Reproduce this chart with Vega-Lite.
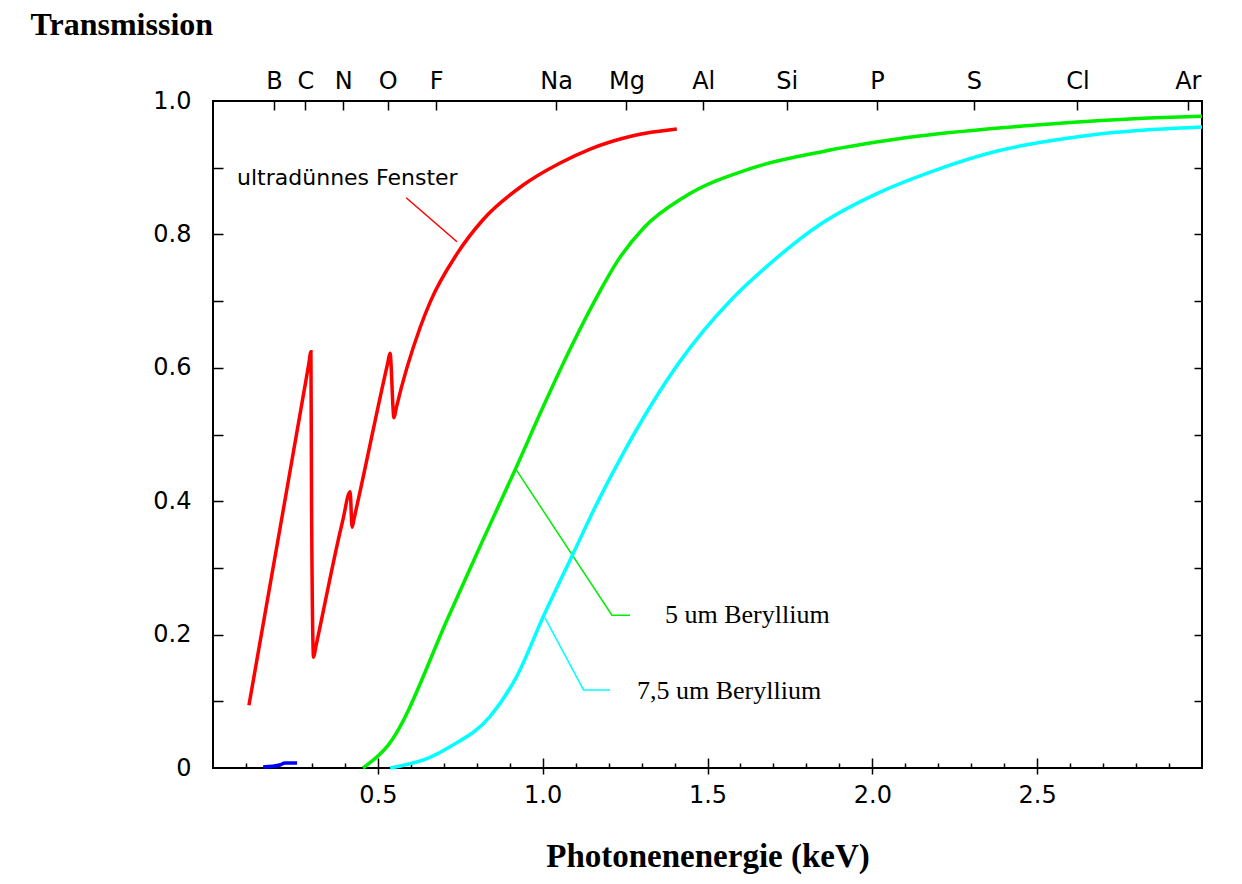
{
  "$schema": "https://vega.github.io/schema/vega-lite/v6.json",
  "width": 989,
  "height": 667,
  "autosize": {"type": "none"},
  "padding": {"left": 213, "top": 101, "right": 40, "bottom": 116},
  "background": "white",
  "config": {
    "view": {"stroke": "#000", "strokeWidth": 2},
    "axis": {
      "grid": false,
      "domain": false,
      "labelFont": "DejaVu Sans",
      "labelFontSize": 24,
      "labelColor": "#000",
      "tickColor": "#000",
      "tickWidth": 1.5,
      "labelOverlap": false,
      "labelFlush": false,
      "titleColor": "#000"
    }
  },
  "datasets": {
    "curves": [
      {"series": "ultradünnes Fenster", "E": 0.109, "T": 0.094},
      {"series": "ultradünnes Fenster", "E": 0.2, "T": 0.35},
      {"series": "ultradünnes Fenster", "E": 0.29, "T": 0.604},
      {"series": "ultradünnes Fenster", "E": 0.297, "T": 0.624},
      {"series": "ultradünnes Fenster", "E": 0.299, "T": 0.391},
      {"series": "ultradünnes Fenster", "E": 0.305, "T": 0.166},
      {"series": "ultradünnes Fenster", "E": 0.312, "T": 0.182},
      {"series": "ultradünnes Fenster", "E": 0.386, "T": 0.355},
      {"series": "ultradünnes Fenster", "E": 0.394, "T": 0.372},
      {"series": "ultradünnes Fenster", "E": 0.416, "T": 0.414},
      {"series": "ultradünnes Fenster", "E": 0.422, "T": 0.361},
      {"series": "ultradünnes Fenster", "E": 0.428, "T": 0.374},
      {"series": "ultradünnes Fenster", "E": 0.53, "T": 0.607},
      {"series": "ultradünnes Fenster", "E": 0.537, "T": 0.622},
      {"series": "ultradünnes Fenster", "E": 0.549, "T": 0.525},
      {"series": "ultradünnes Fenster", "E": 0.556, "T": 0.54},
      {"series": "ultradünnes Fenster", "E": 0.628, "T": 0.66},
      {"series": "ultradünnes Fenster", "E": 0.66, "T": 0.7},
      {"series": "ultradünnes Fenster", "E": 0.739, "T": 0.77},
      {"series": "ultradünnes Fenster", "E": 0.819, "T": 0.822},
      {"series": "ultradünnes Fenster", "E": 0.941, "T": 0.874},
      {"series": "ultradünnes Fenster", "E": 1.053, "T": 0.907},
      {"series": "ultradünnes Fenster", "E": 1.144, "T": 0.928},
      {"series": "ultradünnes Fenster", "E": 1.274, "T": 0.948},
      {"series": "ultradünnes Fenster", "E": 1.407, "T": 0.958},
      {"series": "5 um Beryllium", "E": 0.455, "T": 0.0},
      {"series": "5 um Beryllium", "E": 0.531, "T": 0.034},
      {"series": "5 um Beryllium", "E": 0.719, "T": 0.232},
      {"series": "5 um Beryllium", "E": 0.819, "T": 0.342},
      {"series": "5 um Beryllium", "E": 0.921, "T": 0.452},
      {"series": "5 um Beryllium", "E": 1.0, "T": 0.54},
      {"series": "5 um Beryllium", "E": 1.09, "T": 0.635},
      {"series": "5 um Beryllium", "E": 1.174, "T": 0.715},
      {"series": "5 um Beryllium", "E": 1.223, "T": 0.757},
      {"series": "5 um Beryllium", "E": 1.307, "T": 0.81},
      {"series": "5 um Beryllium", "E": 1.426, "T": 0.855},
      {"series": "5 um Beryllium", "E": 1.632, "T": 0.899},
      {"series": "5 um Beryllium", "E": 1.848, "T": 0.924},
      {"series": "5 um Beryllium", "E": 2.136, "T": 0.947},
      {"series": "5 um Beryllium", "E": 2.498, "T": 0.964},
      {"series": "5 um Beryllium", "E": 2.86, "T": 0.975},
      {"series": "5 um Beryllium", "E": 3.0, "T": 0.977},
      {"series": "7,5 um Beryllium", "E": 0.537, "T": 0.0},
      {"series": "7,5 um Beryllium", "E": 0.658, "T": 0.016},
      {"series": "7,5 um Beryllium", "E": 0.719, "T": 0.032},
      {"series": "7,5 um Beryllium", "E": 0.84, "T": 0.077},
      {"series": "7,5 um Beryllium", "E": 0.921, "T": 0.137},
      {"series": "7,5 um Beryllium", "E": 1.002, "T": 0.227},
      {"series": "7,5 um Beryllium", "E": 1.093, "T": 0.322},
      {"series": "7,5 um Beryllium", "E": 1.164, "T": 0.396},
      {"series": "7,5 um Beryllium", "E": 1.25, "T": 0.477},
      {"series": "7,5 um Beryllium", "E": 1.417, "T": 0.61},
      {"series": "7,5 um Beryllium", "E": 1.572, "T": 0.702},
      {"series": "7,5 um Beryllium", "E": 1.68, "T": 0.752},
      {"series": "7,5 um Beryllium", "E": 1.848, "T": 0.817},
      {"series": "7,5 um Beryllium", "E": 2.017, "T": 0.862},
      {"series": "7,5 um Beryllium", "E": 2.184, "T": 0.895},
      {"series": "7,5 um Beryllium", "E": 2.379, "T": 0.925},
      {"series": "7,5 um Beryllium", "E": 2.618, "T": 0.946},
      {"series": "7,5 um Beryllium", "E": 2.74, "T": 0.953},
      {"series": "7,5 um Beryllium", "E": 3.0, "T": 0.961},
      {"series": "blau", "E": 0.152, "T": 0.0015},
      {"series": "blau", "E": 0.203, "T": 0.0045},
      {"series": "blau", "E": 0.218, "T": 0.0075},
      {"series": "blau", "E": 0.255, "T": 0.0075}
    ],
    "leaders": [
      {"series": "ultradünnes Fenster", "E": 0.586, "T": 0.855},
      {"series": "ultradünnes Fenster", "E": 0.74, "T": 0.789},
      {"series": "5 um Beryllium", "E": 0.916, "T": 0.45},
      {"series": "5 um Beryllium", "E": 1.21, "T": 0.229},
      {"series": "5 um Beryllium", "E": 1.265, "T": 0.229},
      {"series": "7,5 um Beryllium", "E": 1.007, "T": 0.225},
      {"series": "7,5 um Beryllium", "E": 1.124, "T": 0.117},
      {"series": "7,5 um Beryllium", "E": 1.204, "T": 0.117}
    ],
    "labels": [
      {"kind": "sans", "text": "ultradünnes Fenster", "E": 0.073, "T": 0.885},
      {"kind": "serif", "text": "5 um Beryllium", "E": 1.371, "T": 0.229},
      {"kind": "serif", "text": "7,5 um Beryllium", "E": 1.286, "T": 0.115}
    ]
  },
  "layer": [
    {
      "data": {"name": "leaders"},
      "mark": {"type": "line", "strokeWidth": 1.5},
      "encoding": {
        "x": {
          "field": "E", "type": "quantitative",
          "scale": {"domain": [0, 3], "nice": false, "zero": false},
          "axis": {
            "orient": "bottom",
            "values": [0.1, 0.2, 0.3, 0.4, 0.5, 0.6, 0.7, 0.8, 0.9, 1.0, 1.1, 1.2, 1.3, 1.4, 1.5, 1.6, 1.7, 1.8, 1.9, 2.0, 2.1, 2.2, 2.3, 2.4, 2.5, 2.6, 2.7, 2.8, 2.9],
            "labels": false,
            "tickSize": {"condition": {"test": "abs(datum.value * 2 - round(datum.value * 2)) < 0.01", "value": -10}, "value": -5},
            "title": null
          }
        },
        "y": {
          "field": "T", "type": "quantitative",
          "scale": {"domain": [0, 1], "nice": false, "zero": false},
          "axis": {
            "orient": "left",
            "values": [0.1, 0.2, 0.3, 0.4, 0.5, 0.6, 0.7, 0.8, 0.9],
            "labels": false,
            "tickSize": -10,
            "title": null
          }
        },
        "color": {
          "field": "series", "type": "nominal",
          "scale": {"domain": ["ultradünnes Fenster", "5 um Beryllium", "7,5 um Beryllium", "blau"], "range": ["#ff0000", "#00ee00", "#00ffff", "#0000ff"]},
          "legend": null
        }
      }
    },
    {
      "data": {"name": "curves"},
      "mark": {"type": "line", "strokeWidth": 3.5, "interpolate": "monotone"},
      "encoding": {
        "x": {
          "field": "E", "type": "quantitative",
          "scale": {"domain": [0, 3], "nice": false, "zero": false},
          "axis": {
            "orient": "bottom",
            "values": [0.5, 1.0, 1.5, 2.0, 2.5],
            "format": ".1f",
            "tickSize": 6,
            "labelPadding": 9,
            "title": "Photonenenergie (keV)",
            "titleFont": "Liberation Serif",
            "titleFontSize": 33,
            "titleFontWeight": "bold",
            "titleBaseline": "alphabetic",
            "titleY": 98
          }
        },
        "y": {
          "field": "T", "type": "quantitative",
          "scale": {"domain": [0, 1], "nice": false, "zero": false},
          "axis": {
            "orient": "left",
            "values": [0, 0.2, 0.4, 0.6, 0.8, 1.0],
            "labelExpr": "datum.value == 0 ? '0' : format(datum.value, '.1f')",
            "ticks": false,
            "labelPadding": 22,
            "title": "Transmission",
            "titleAngle": 0,
            "titleAlign": "left",
            "titleBaseline": "alphabetic",
            "titleX": -183,
            "titleY": -67,
            "titleFont": "Liberation Serif",
            "titleFontSize": 32,
            "titleFontWeight": "bold"
          }
        },
        "color": {
          "field": "series", "type": "nominal",
          "scale": {"domain": ["ultradünnes Fenster", "5 um Beryllium", "7,5 um Beryllium", "blau"], "range": ["#ff0000", "#00ee00", "#00ffff", "#0000ff"]},
          "legend": null
        }
      }
    },
    {
      "data": {"name": "labels"},
      "transform": [{"filter": "datum.kind == 'sans'"}],
      "mark": {"type": "text", "align": "left", "baseline": "middle", "font": "DejaVu Sans", "fontSize": 22, "color": "#000"},
      "encoding": {
        "x": {
          "field": "E", "type": "quantitative",
          "scale": {"domain": [0, 3], "nice": false, "zero": false},
          "axis": {
            "orient": "top",
            "values": [0.185, 0.28, 0.395, 0.53, 0.677, 1.041, 1.254, 1.487, 1.74, 2.014, 2.308, 2.622, 2.957],
            "labelExpr": "datum.value < 0.23 ? 'B' : datum.value < 0.33 ? 'C' : datum.value < 0.45 ? 'N' : datum.value < 0.6 ? 'O' : datum.value < 0.8 ? 'F' : datum.value < 1.1 ? 'Na' : datum.value < 1.35 ? 'Mg' : datum.value < 1.6 ? 'Al' : datum.value < 1.9 ? 'Si' : datum.value < 2.15 ? 'P' : datum.value < 2.45 ? 'S' : datum.value < 2.8 ? 'Cl' : 'Ar'",
            "ticks": false,
            "labelPadding": 8,
            "title": null
          }
        },
        "y": {
          "field": "T", "type": "quantitative",
          "scale": {"domain": [0, 1], "nice": false, "zero": false},
          "axis": {
            "orient": "right",
            "values": [0.1, 0.2, 0.3, 0.4, 0.5, 0.6, 0.7, 0.8, 0.9],
            "labels": false,
            "tickSize": -8,
            "title": null
          }
        },
        "text": {"field": "text", "type": "nominal"}
      }
    },
    {
      "data": {"name": "labels"},
      "transform": [{"filter": "datum.kind == 'serif'"}],
      "mark": {"type": "text", "align": "left", "baseline": "middle", "font": "Liberation Serif", "fontSize": 26, "color": "#000"},
      "encoding": {
        "x": {
          "field": "E", "type": "quantitative",
          "scale": {"domain": [0, 3], "nice": false, "zero": false},
          "axis": {
            "orient": "top",
            "values": [0.185, 0.28, 0.395, 0.53, 0.677, 1.041, 1.254, 1.487, 1.74, 2.014, 2.308, 2.622, 2.957],
            "labels": false,
            "tickSize": -9,
            "title": null
          }
        },
        "y": {
          "field": "T", "type": "quantitative",
          "scale": {"domain": [0, 1], "nice": false, "zero": false},
          "axis": null
        },
        "text": {"field": "text", "type": "nominal"}
      }
    }
  ],
  "resolve": {"axis": {"x": "independent", "y": "independent"}}
}
